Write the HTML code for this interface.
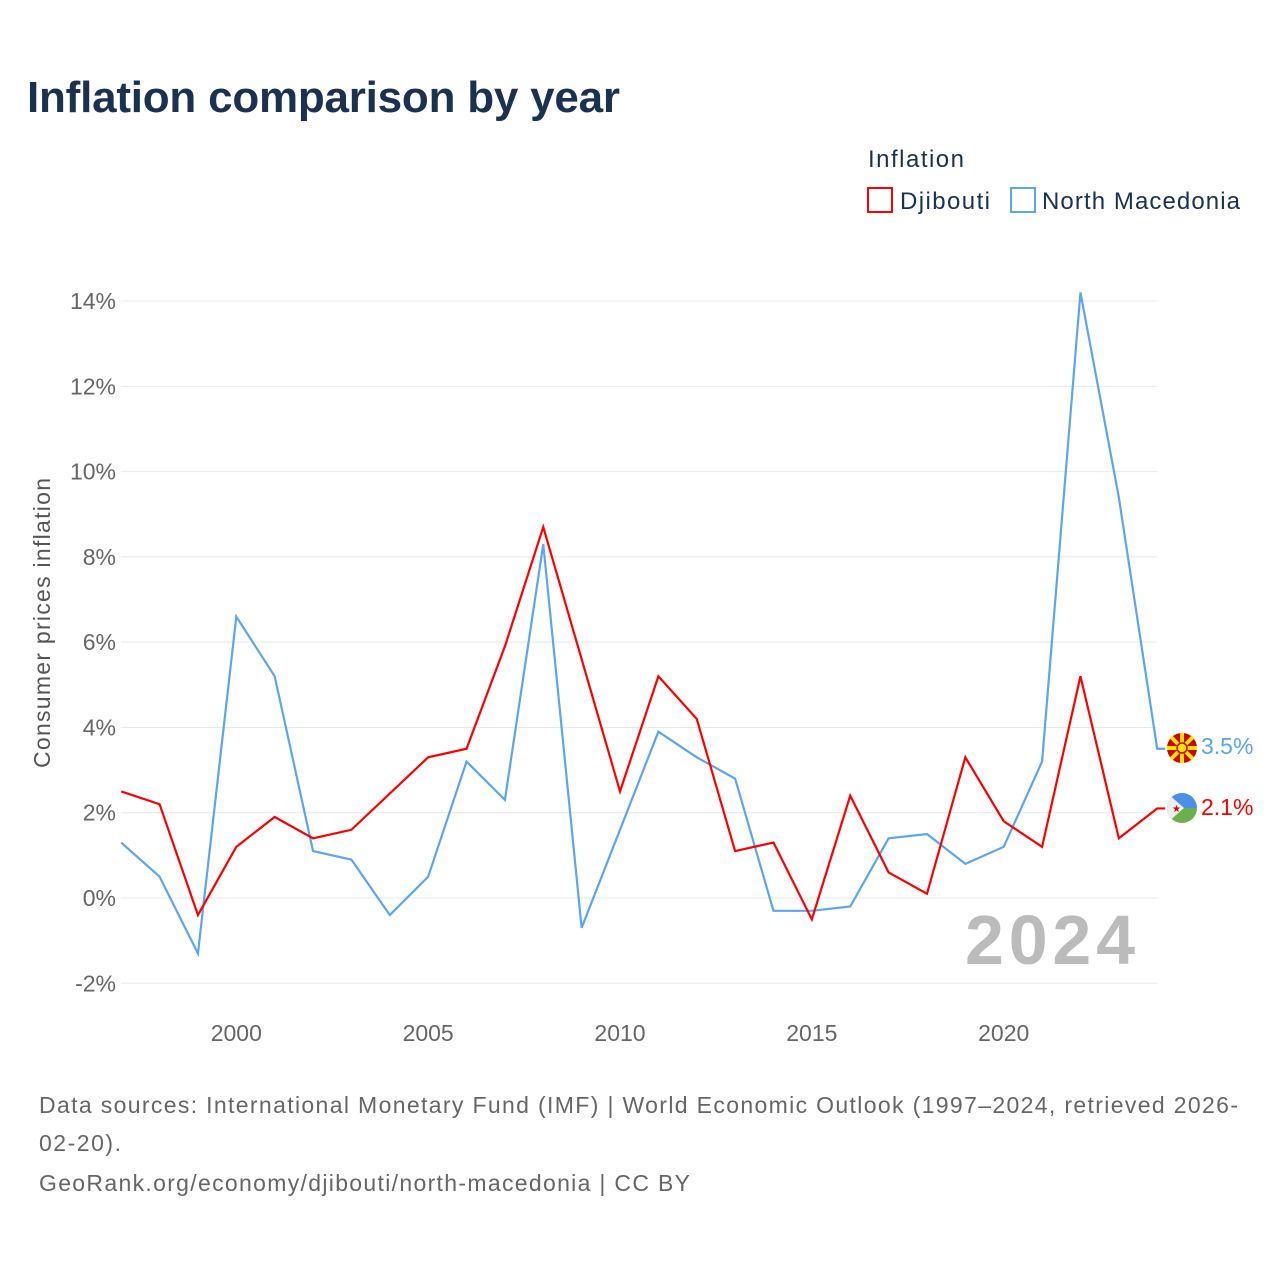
<!DOCTYPE html>
<html><head><meta charset="utf-8"><style>
body{margin:0;background:#fff;font-family:"Liberation Sans",sans-serif;}
svg text{font-family:"Liberation Sans",sans-serif;}
</style></head><body>
<svg width="1280" height="1280" xmlns="http://www.w3.org/2000/svg">
<text x="27" y="112" font-size="44" font-weight="bold" fill="#1a3150" textLength="593">Inflation comparison by year</text>
<text x="868" y="167" font-size="24" fill="#1a3150" textLength="96">Inflation</text>
<g><rect x="868" y="188" width="24" height="24" fill="#fff" stroke="#f00" stroke-width="2"/><text x="900" y="209" font-size="24" fill="#1a3150" textLength="90">Djibouti</text></g>
<g><rect x="1011" y="188" width="24" height="24" fill="#fff" stroke="#5ba6ee" stroke-width="2"/><text x="1042" y="209" font-size="24" fill="#1a3150" textLength="198">North Macedonia</text></g>
<g id="grid"></g>
<g id="yt"></g>
<g id="xt"></g>
<text transform="translate(50,623) rotate(-90)" text-anchor="middle" font-size="23" fill="#555" textLength="290">Consumer prices inflation</text>
<text x="965" y="964" font-size="70" font-weight="bold" fill="#bbb" textLength="170">2024</text>
<g id="lines"></g>
<g transform="translate(1182,748)">
<circle r="15" fill="#d20000"/>
<g stroke="#ffe600" stroke-width="4"><line x1="-15" y1="0" x2="15" y2="0"/><line x1="0" y1="-15" x2="0" y2="15"/><line x1="-11" y1="-11" x2="11" y2="11"/><line x1="-11" y1="11" x2="11" y2="-11"/></g>
<circle r="5" fill="#ffe600" stroke="#d20000" stroke-width="1.5"/></g>
<g transform="translate(1182,808)">
<clipPath id="c"><circle r="15"/></clipPath>
<g clip-path="url(#c)"><rect x="-15" y="-15" width="30" height="15" fill="#4a90e8"/><rect x="-15" y="0" width="30" height="15" fill="#6ab04c"/><polygon points="-15,-15 2,0 -15,15" fill="#eee"/></g>
<text x="-10" y="4" font-size="10" fill="#d00">★</text></g>
<text x="1201" y="754" font-size="23" fill="#5ba6ee">3.5%</text>
<text x="1201" y="815" font-size="23" fill="#f00">2.1%</text>
<g font-size="23" fill="#666">
<text x="39" y="1113" textLength="1199">Data sources: International Monetary Fund (IMF) | World Economic Outlook (1997–2024, retrieved 2026-</text>
<text x="39" y="1151" textLength="82">02-20).</text>
<text x="39" y="1191" textLength="651">GeoRank.org/economy/djibouti/north-macedonia | CC BY</text></g>
</svg>
<script>
const years=[1997,1998,1999,2000,2001,2002,2003,2004,2005,2006,2007,2008,2009,2010,2011,2012,2013,2014,2015,2016,2017,2018,2019,2020,2021,2022,2023,2024];
const djibouti=[2.5,2.2,-0.4,1.2,1.9,1.4,1.6,2.45,3.3,3.5,5.9,8.7,5.6,2.5,5.2,4.2,1.1,1.3,-0.5,2.4,0.6,0.1,3.3,1.8,1.2,5.2,1.4,2.1];
const macedonia=[1.3,0.5,-1.3,6.6,5.2,1.1,0.9,-0.4,0.5,3.2,2.3,8.3,-0.7,1.6,3.9,3.3,2.8,-0.3,-0.3,-0.2,1.4,1.5,0.8,1.2,3.2,14.2,9.4,3.5];
const yTicks=[-2,0,2,4,6,8,10,12,14];
const xTicks=[2000,2005,2010,2015,2020];
const X=y=>121.2+(y-1997)*38.37, Y=v=>898-v*42.64;
const NS='http://www.w3.org/2000/svg';
function mk(t,a,p){const e=document.createElementNS(NS,t);for(const k in a)e.setAttribute(k,a[k]);p.appendChild(e);return e;}
const g=document.getElementById('grid'),yt=document.getElementById('yt'),xt=document.getElementById('xt'),L=document.getElementById('lines');
yTicks.forEach(v=>{const l=mk('line',{x1:121,x2:1157,y1:Y(v),y2:Y(v),stroke:'#e8e8e8','stroke-width':1},g);


const t=mk('text',{x:116,y:Y(v)+8,'text-anchor':'end','font-size':23,fill:'#666'},yt);t.textContent=v+'%';

});
xTicks.forEach(v=>{const t=mk('text',{x:X(v),y:1041,'text-anchor':'middle','font-size':23,fill:'#666'},xt);t.textContent=v;

});
function line(d,c,n){const pts=d.map((v,i)=>X(years[i])+','+Y(v));const last=d[d.length-1];pts.push((X(years[years.length-1])+8)+','+Y(last));
const p=mk('polyline',{points:pts.join(' '),fill:'none',stroke:c,'stroke-width':2.2,'stroke-linejoin':'miter'},L);

}
line(macedonia,'#5ba6ee','line-north-macedonia');
line(djibouti,'#f00','line-djibouti');
</script>
</body></html>
